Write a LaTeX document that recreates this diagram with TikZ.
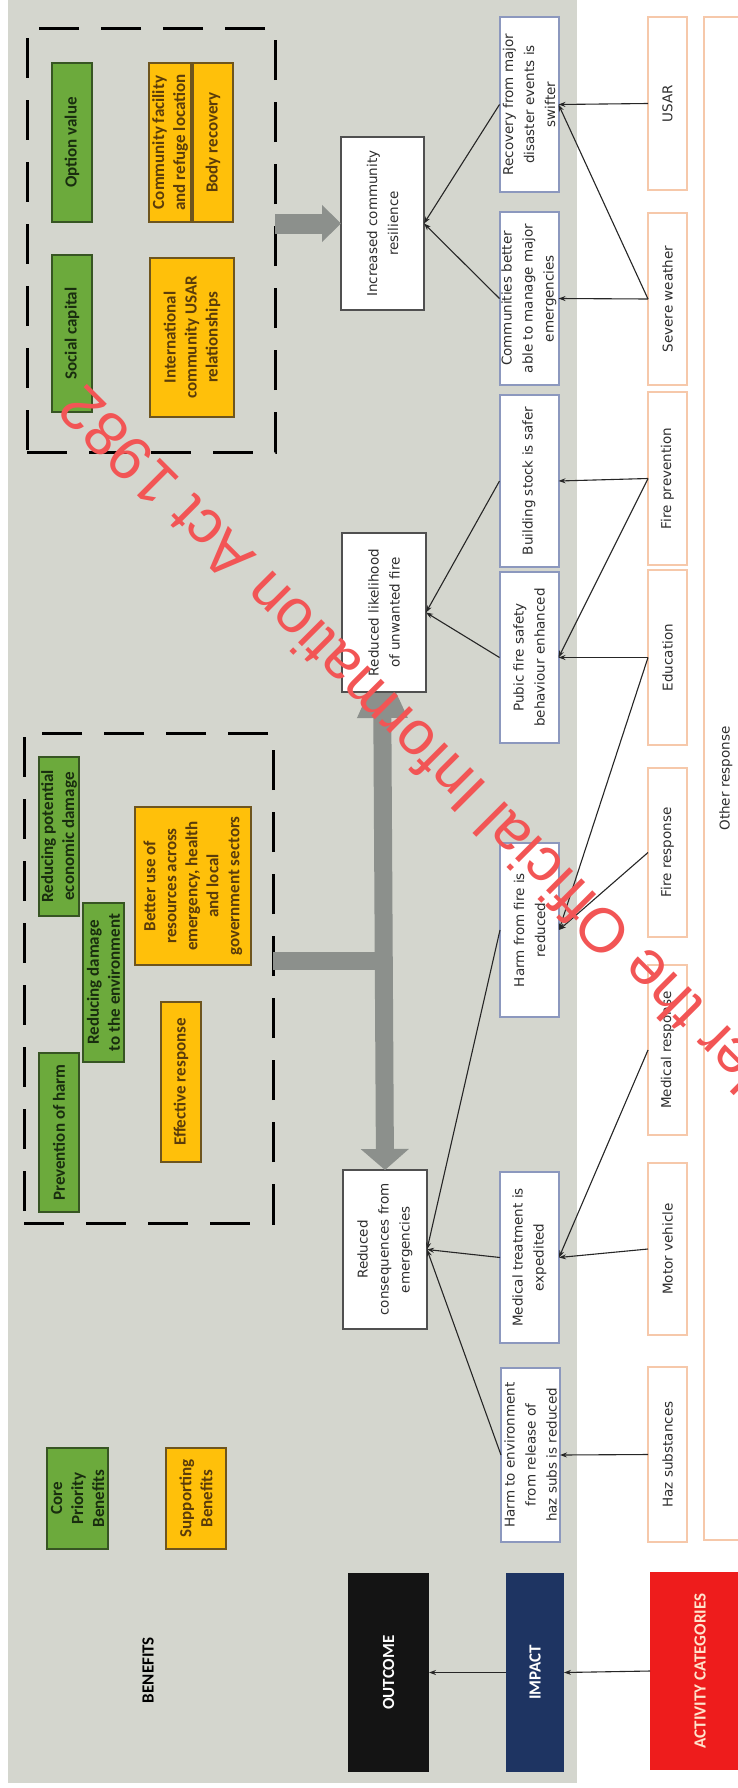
\documentclass[tikz,border=0pt]{standalone}
\usepackage{fontspec}
\setmainfont{Carlito}
\newfontfamily\dvfont{DejaVu Sans}
\newfontfamily\wmfont{Liberation Sans}
\usetikzlibrary{arrows.meta}
\definecolor{bggray}{RGB}{212,214,206}
\definecolor{gfill}{RGB}{108,170,60}
\definecolor{gdraw}{RGB}{55,85,35}
\definecolor{ofill}{RGB}{255,192,10}
\definecolor{odraw}{RGB}{110,85,30}
\definecolor{gtext}{RGB}{25,45,15}
\definecolor{otext}{RGB}{90,60,10}
\definecolor{outdraw}{RGB}{80,80,80}
\definecolor{impdraw}{RGB}{140,152,190}
\definecolor{actdraw}{RGB}{246,200,170}
\definecolor{blockgray}{RGB}{140,144,140}
\definecolor{navy}{RGB}{30,52,98}
\definecolor{actred}{RGB}{238,28,28}
\definecolor{actext}{RGB}{255,228,205}
\definecolor{wmred}{RGB}{242,85,85}
\tikzset{
  rot/.style={rotate=90, inner sep=0pt, outer sep=0pt, align=center},
  sz/.style 2 args={minimum height=#1pt, minimum width=#2pt},
  wfont/.style={font=\dvfont\fontsize{13.5}{21}\selectfont, text=black!82},
  outbox/.style={rot, wfont, draw=outdraw, line width=1.5pt, fill=white},
  impbox/.style={rot, wfont, draw=impdraw, line width=2pt, fill=white},
  actbox/.style={rot, wfont, draw=actdraw, line width=1.5pt, fill=white},
  cfont/.style={font=\bfseries\fontsize{17}{21}\selectfont},
  gbox/.style={rot, cfont, draw=gdraw, line width=1.5pt, fill=gfill, text=gtext},
  obox/.style={rot, cfont, draw=odraw, line width=1.5pt, fill=ofill, text=otext},
  lbox/.style={rot, cfont, text=white},
  dbox/.style={draw=black, line width=3pt, dash pattern=on 40pt off 22pt, inner sep=0pt, outer sep=0pt},
  conn/.style={draw=black!85, line width=1.1pt, -{Stealth[length=7pt,width=5pt]}},
  blk/.style={draw=blockgray, line width=#1},
}
\begin{document}
\begin{tikzpicture}[x=1pt, y=-1pt]
\useasboundingbox (0,0) rectangle (738,1788);
\fill[white] (0,0) rectangle (738,1788);
\fill[bggray] (8,0) rectangle (577,1783);

% dashed groups
\node[dbox, minimum width=248pt, minimum height=424pt] (d1) at (151,240) {};
\node[dbox, minimum width=249pt, minimum height=490pt] (d2) at (148.5,978) {};

% outcome nodes (needed for block arrows)
\node[outbox, sz={83}{173}] (incres) at (382.5,223.5) {Increased community\\resilience};
\coordinate (vtop) at (382,660);
\coordinate (vjoin) at (382,961);

% block arrows (drawn under boxes)
\draw[blk=20pt, -{Triangle[length=19pt,width=36pt]}] (d1.east |- incres.north) -- (incres.north);
\draw[blk=18pt] (d2.east |- vjoin) -- (vjoin);

% green boxes
\node[gbox, sz={40}{159}] (optval) at (72,142.5) {Option value};
\node[gbox, sz={40}{157}] (socap) at (72,333.5) {Social capital};
\node[gbox, sz={40}{159}] (redecon) at (59,836.5) {Reducing potential\\economic damage};
\node[gbox, sz={41}{159}] (reddam) at (103.5,982.5) {Reducing damage\\to the environment};
\node[gbox, sz={40}{159}] (prevharm) at (59,1132.5) {Prevention of harm};
\node[gbox, sz={61}{101}] (corepri) at (77.5,1498.5) {Core\\Priority\\Benefits};

% orange boxes
\node[obox, sz={42}{159}] (commfac) at (170,142.5) {Community facility\\and refuge location};
\node[obox, sz={40}{159}] (bodyrec) at (213,142.5) {Body recovery};
\node[obox, sz={84}{159}] (intusar) at (192,337.5) {International\\community USAR\\relationships};
\node[obox, sz={116}{158}] (betteruse) at (193,886) {Better use of\\resources across\\emergency, health\\and local\\government sectors};
\node[obox, sz={40}{160}] (effresp) at (181,1082) {Effective response};
\node[obox, sz={60}{101}] (suppben) at (196,1498.5) {Supporting\\Benefits};

\node[rot, cfont, text=black] (benefits) at (148,1670) {BENEFITS};

% outcome row
\node[outbox, sz={84}{159}] (redcons) at (385,1249.5) {Reduced\\consequences from\\emergencies};
\draw[blk=18pt, {Triangle[length=58pt,width=46pt]}-{Triangle[length=21pt,width=47pt]}] (vtop) -- (redcons.east);
\node[outbox, sz={84}{159}] (redlike) at (384,612.5) {Reduced likelihood\\of unwanted fire};
\node[lbox, fill=black!92, sz={81}{199}] (outcome) at (388.5,1672.5) {OUTCOME};

% impact row
\node[impbox, sz={59}{175}] (recov) at (529,104.5) {Recovery from major\\disaster events is\\swifter};
\node[impbox, sz={59}{173}] (commbet) at (529,298.5) {Communities better\\able to manage major\\emergencies};
\node[impbox, sz={59}{172}] (build) at (529,481) {Building stock is safer};
\node[impbox, sz={59}{171}] (pubfire) at (529,657.5) {Pubic fire safety\\behaviour enhanced};
\node[impbox, sz={59}{174}] (harmfire) at (529.5,930) {Harm from fire is\\reduced};
\node[impbox, sz={59}{171}] (medtreat) at (529.5,1257.5) {Medical treatment is\\expedited};
\node[impbox, sz={59}{174}] (harmenv) at (530.5,1455) {Harm to environment\\from release of\\haz subs is reduced};
\node[lbox, fill=navy, sz={58}{199}] (impact) at (535,1672.5) {IMPACT};

% activity row
\node[actbox, sz={39}{173}] (usar) at (667.5,103.5) {USAR};
\node[actbox, sz={39}{172}] (severe) at (667.5,299) {Severe weather};
\node[actbox, sz={39}{173}] (fireprev) at (667.5,478.5) {Fire prevention};
\node[actbox, sz={39}{175}] (educ) at (667.5,657.5) {Education};
\node[actbox, sz={39}{169}] (fireresp) at (667.5,852.5) {Fire response};
\node[actbox, sz={39}{170}] (medresp) at (667.5,1050) {Medical response};
\node[actbox, sz={39}{172}] (motor) at (667.5,1249) {Motor vehicle};
\node[actbox, sz={39}{175}] (haz) at (667.5,1454.5) {Haz substances};
\node[actbox, sz={44}{1523}] (other) at (726,778.5) {Other response};
\node[lbox, fill=actred, text=actext, sz={100}{198}] (actcat) at (700,1671) {ACTIVITY CATEGORIES};

% connectors activity -> impact
\draw[conn] (usar.north) -- (recov.south);
\draw[conn] (severe.north) -- (commbet.south);
\draw[conn] (severe.north) -- (recov.south);
\draw[conn] (fireprev.north) -- (build.south);
\draw[conn] (fireprev.north) -- (pubfire.south);
\draw[conn] (educ.north) -- (pubfire.south);
\draw[conn] (educ.north) -- (harmfire.south);
\draw[conn] (fireresp.north) -- (harmfire.south);
\draw[conn] (medresp.north) -- (medtreat.south);
\draw[conn] (motor.north) -- (medtreat.south);
\draw[conn] (haz.north) -- (harmenv.south);
\draw[conn] (actcat.north) -- (impact.south);

% connectors impact -> outcome
\draw[conn] (recov.north) -- (incres.south);
\draw[conn] (commbet.north) -- (incres.south);
\draw[conn] (build.north) -- (redlike.south);
\draw[conn] (pubfire.north) -- (redlike.south);
\draw[conn] (harmfire.north) -- (redcons.south);
\draw[conn] (medtreat.north) -- (redcons.south);
\draw[conn] (harmenv.north) -- (redcons.south);
\draw[conn] (impact.north) -- (outcome.south);

% watermark
\begin{scope}
\clip (0,0) rectangle (738,1788);
\node[anchor=east, rotate=135, inner sep=0pt, outer sep=0pt, text=wmred, font=\wmfont\fontsize{62}{62}\selectfont] (wm) at (69,398) {Released under the Official Information Act 1982};
\end{scope}
\end{tikzpicture}
\end{document}
